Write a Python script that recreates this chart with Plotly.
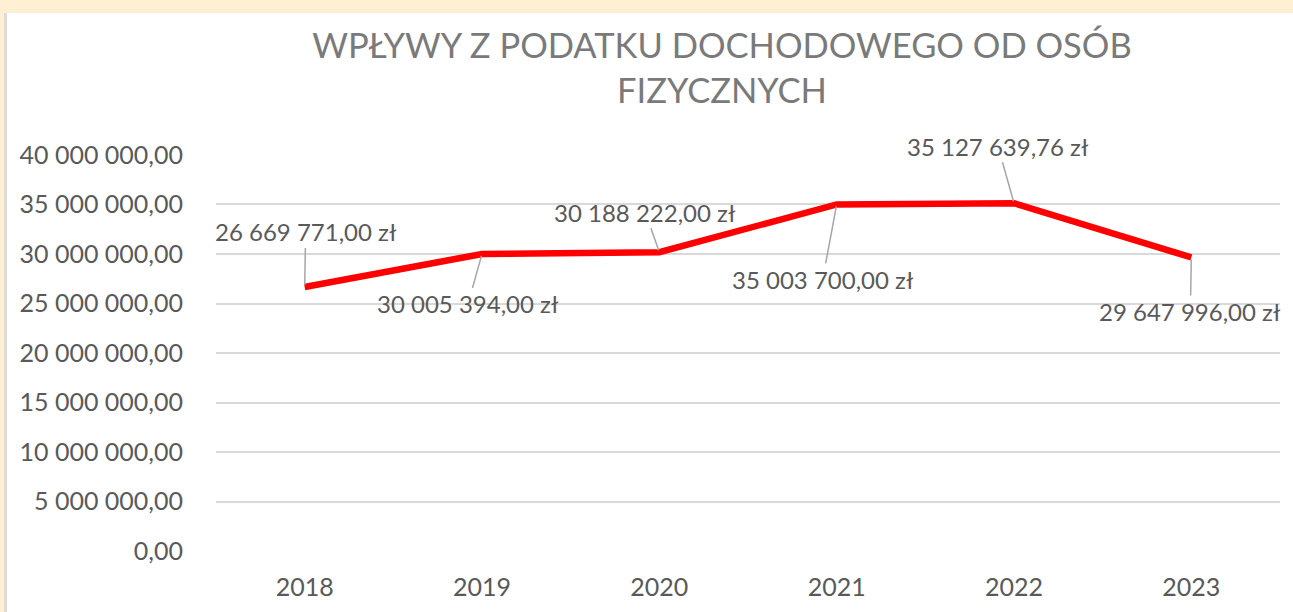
import plotly.graph_objects as go

years = ["2018", "2019", "2020", "2021", "2022", "2023"]
values = [26669771.00, 30005394.00, 30188222.00, 35003700.00, 35127639.76, 29647996.00]
labels = ["26 669 771,00 zł", "30 005 394,00 zł", "30 188 222,00 zł",
          "35 003 700,00 zł", "35 127 639,76 zł", "29 647 996,00 zł"]
tick_vals = [0, 5e6, 10e6, 15e6, 20e6, 25e6, 30e6, 35e6, 40e6]
tick_text = ["0,00", "5 000 000,00", "10 000 000,00", "15 000 000,00", "20 000 000,00",
             "25 000 000,00", "30 000 000,00", "35 000 000,00", "40 000 000,00"]
# label offsets (pixels) relative to point
label_ax = [1, -14, -14, -14, -16, -1]
label_ay = [-55, 50, -40, 75, -57, 54]

FONT = "Lato, Carlito, Calibri, sans-serif"
GRAY = "#595959"

L, R, T, B = 216, 13, 154, 60
W = 1293 - L - R
H = 612 - T - B

def px_x(px):
    return (px - L) / W

def px_y(py):
    return (612 - B - py) / H

fig = go.Figure()
fig.add_trace(go.Scatter(
    x=list(range(len(years))), y=values, mode="lines",
    line=dict(color="#FF0000", width=6.5, shape="linear"),
    hoverinfo="skip", showlegend=False,
))

for i, (y, t, ax, ay) in enumerate(zip(values, labels, label_ax, label_ay)):
    fig.add_annotation(
        x=i, y=y, xref="x", yref="y", text=t, showarrow=True, arrowhead=0,
        arrowwidth=1.5, arrowcolor="#A6A6A6", ax=ax, ay=ay, standoff=2,
        font=dict(family=FONT, size=24, color=GRAY),
    )

fig.update_layout(
    width=1293, height=612,
    margin=dict(l=L, r=R, t=T, b=B),
    paper_bgcolor="white", plot_bgcolor="white",
    title=dict(text="WPŁYWY Z PODATKU DOCHODOWEGO OD OSÓB<br>FIZYCZNYCH",
               x=px_x(722), xref="paper", xanchor="center", y=0.97 - 40 / 612, yanchor="top",
               font=dict(family=FONT, size=34.5, color="#7A7A7A")),
    xaxis=dict(range=[-0.5, 5.5], tickvals=list(range(len(years))), ticktext=years,
               showgrid=False, zeroline=False, showline=False, ticks="",
               tickfont=dict(family=FONT, size=25, color=GRAY),
               ticklabelstandoff=18),
    yaxis=dict(range=[-0.1e6, 40.1e6], tickvals=tick_vals, ticktext=tick_text,
               showgrid=True, gridcolor="#D9D9D9", gridwidth=1.5, zeroline=False,
               showline=False, ticks="", tickfont=dict(family=FONT, size=25, color=GRAY),
               ticklabelstandoff=32),
)

fig.add_shape(type="rect", xref="paper", yref="paper", x0=px_x(-5), x1=px_x(1300),
              y0=px_y(13), y1=px_y(-5), fillcolor="#FFF0D4", line_width=0, layer="below")
fig.add_shape(type="rect", xref="paper", yref="paper", x0=px_x(-5), x1=px_x(4),
              y0=px_y(620), y1=px_y(13), fillcolor="#FFF0D4", line_width=0, layer="below")
fig.add_shape(type="rect", xref="paper", yref="paper", x0=px_x(4), x1=px_x(7),
              y0=px_y(620), y1=px_y(13), fillcolor="#DCDCDC", line_width=0, layer="below")

fig.write_html("out.html", config={"displayModeBar": False},
               post_script="document.body.style.margin='0';")
